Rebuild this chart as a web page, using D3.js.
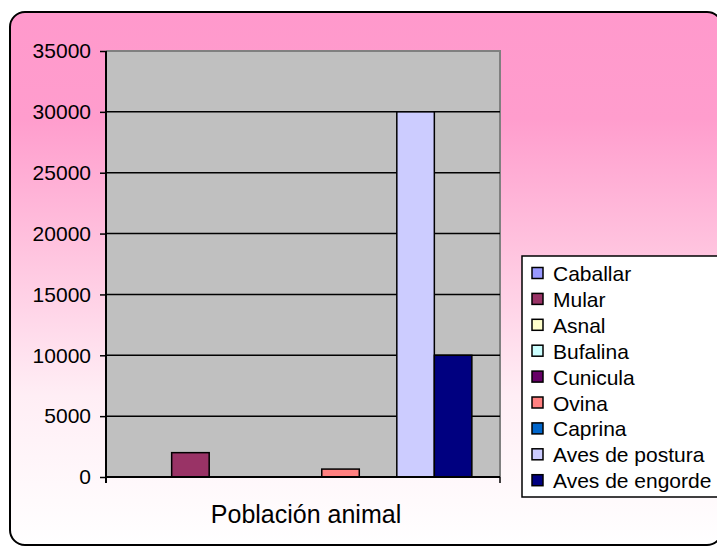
<!DOCTYPE html>
<html>
<head>
<meta charset="utf-8">
<script src="https://cdn.jsdelivr.net/npm/d3@7"></script>
<style>
  html, body { margin: 0; padding: 0; background: #ffffff; overflow: hidden; }
  svg { display: block; }
  text { font-family: "Liberation Sans", Arial, sans-serif; fill: #000; }
</style>
</head>
<body>
<svg id="chart" width="717" height="547"></svg>
<script>
// ---- data ----
const categories = ["Población animal"];
const seriesNames = ["Caballar", "Mular", "Asnal", "Bufalina", "Cunicula", "Ovina", "Caprina", "Aves de postura", "Aves de engorde"];
const seriesValues = [0, 2000, 0, 0, 0, 650, 0, 30000, 10000];
const seriesColors = ["#9999FF", "#993366", "#FFFFCC", "#CCFFFF", "#660066", "#FF8080", "#0066CC", "#CCCCFF", "#000080"];
const yTicks = [0, 5000, 10000, 15000, 20000, 25000, 30000, 35000];

const svg = d3.select("#chart");

// background gradient
const defs = svg.append("defs");
const grad = defs.append("linearGradient").attr("id", "bg").attr("x1", 0).attr("y1", 0).attr("x2", 0).attr("y2", 1);
[[0, "#FF99CC"], [0.2, "#FF9DCD"], [0.45, "#FFC4DF"], [0.72, "#FFEEF5"], [1, "#FFFFFF"]]
  .forEach(([o, c]) => grad.append("stop").attr("offset", o).attr("stop-color", c));

svg.append("rect")
  .attr("x", 10).attr("y", 12).attr("width", 712).attr("height", 533)
  .attr("rx", 15).attr("ry", 15)
  .attr("fill", "url(#bg)").attr("stroke", "#000").attr("stroke-width", 2);

// plot area
const pLeft = 106, pRight = 500, pTop = 51, pBottom = 477;
const y = d3.scaleLinear().domain([0, 35000]).range([pBottom, pTop]);
const x0 = d3.scaleBand().domain(categories).range([pLeft, pRight]);
const x1 = d3.scaleBand().domain(seriesNames).range([pLeft, pRight]).paddingInner(0).paddingOuter(0.75);

svg.append("rect")
  .attr("x", pLeft).attr("y", pTop).attr("width", pRight - pLeft).attr("height", pBottom - pTop)
  .attr("fill", "#C0C0C0");
svg.append("path")
  .attr("d", `M${pLeft},${pTop}H${pRight}V${pBottom}`)
  .attr("fill", "none").attr("stroke", "#808080").attr("stroke-width", 2);

// gridlines
svg.append("g").selectAll("line")
  .data(yTicks.filter(d => d > 0 && d < 35000))
  .join("line")
  .attr("x1", pLeft).attr("x2", pRight)
  .attr("y1", d => y(d)).attr("y2", d => y(d))
  .attr("stroke", "#000").attr("stroke-width", 1.5);

// bars
svg.append("g").selectAll("rect")
  .data(seriesNames.map((n, i) => ({ name: n, value: seriesValues[i], color: seriesColors[i] })).filter(d => d.value > 0))
  .join("rect")
  .attr("x", d => x1(d.name))
  .attr("y", d => y(d.value))
  .attr("width", x1.bandwidth())
  .attr("height", d => y(0) - y(d.value))
  .attr("fill", d => d.color)
  .attr("stroke", "#000").attr("stroke-width", 1.5);

// y axis
const yAxis = d3.axisLeft(y).tickValues(yTicks).tickSize(6).tickPadding(9).tickFormat(d3.format("d"));
const gy = svg.append("g").attr("transform", `translate(${pLeft},0)`).call(yAxis);
gy.select(".domain").remove();
gy.selectAll(".tick line").attr("stroke", "#000").attr("stroke-width", 1.5);
gy.selectAll(".tick text")
  .style("font-family", '"Liberation Sans", Arial, sans-serif')
  .style("font-size", "21px").attr("fill", "#000");
svg.append("line").attr("x1", pLeft).attr("x2", pLeft).attr("y1", pTop).attr("y2", pBottom + 6)
  .attr("stroke", "#000").attr("stroke-width", 2);

// x axis
const xAxis = d3.axisBottom(x0).tickSize(0).tickFormat("");
const gx = svg.append("g").attr("transform", `translate(0,${pBottom})`).call(xAxis);
gx.select(".domain").remove();
svg.append("line").attr("x1", pLeft).attr("x2", pRight).attr("y1", pBottom).attr("y2", pBottom)
  .attr("stroke", "#000").attr("stroke-width", 2);
svg.append("line").attr("x1", pRight).attr("x2", pRight).attr("y1", pBottom).attr("y2", pBottom + 6)
  .attr("stroke", "#000").attr("stroke-width", 1.5);

svg.append("text")
  .attr("x", x0(categories[0]) + x0.bandwidth() / 2 + 3)
  .attr("y", 523)
  .attr("text-anchor", "middle")
  .style("font-size", "25px")
  .text(categories[0]);

// legend
const lg = svg.append("g");
lg.append("rect").attr("x", 522).attr("y", 256).attr("width", 210).attr("height", 241)
  .attr("fill", "#fff").attr("stroke", "#000").attr("stroke-width", 1.5);
const items = lg.selectAll("g.item")
  .data(seriesNames.map((n, i) => ({ name: n, color: seriesColors[i], i })))
  .join("g").attr("class", "item")
  .attr("transform", d => `translate(0,${273.5 + d.i * 25.9})`);
items.append("rect").attr("x", 532).attr("y", -6).attr("width", 11).attr("height", 11)
  .attr("fill", d => d.color).attr("stroke", "#000").attr("stroke-width", 1.5);
items.append("text").attr("x", 553).attr("y", 7.5)
  .style("font-size", "21px")
  .text(d => d.name);
</script>
</body>
</html>
